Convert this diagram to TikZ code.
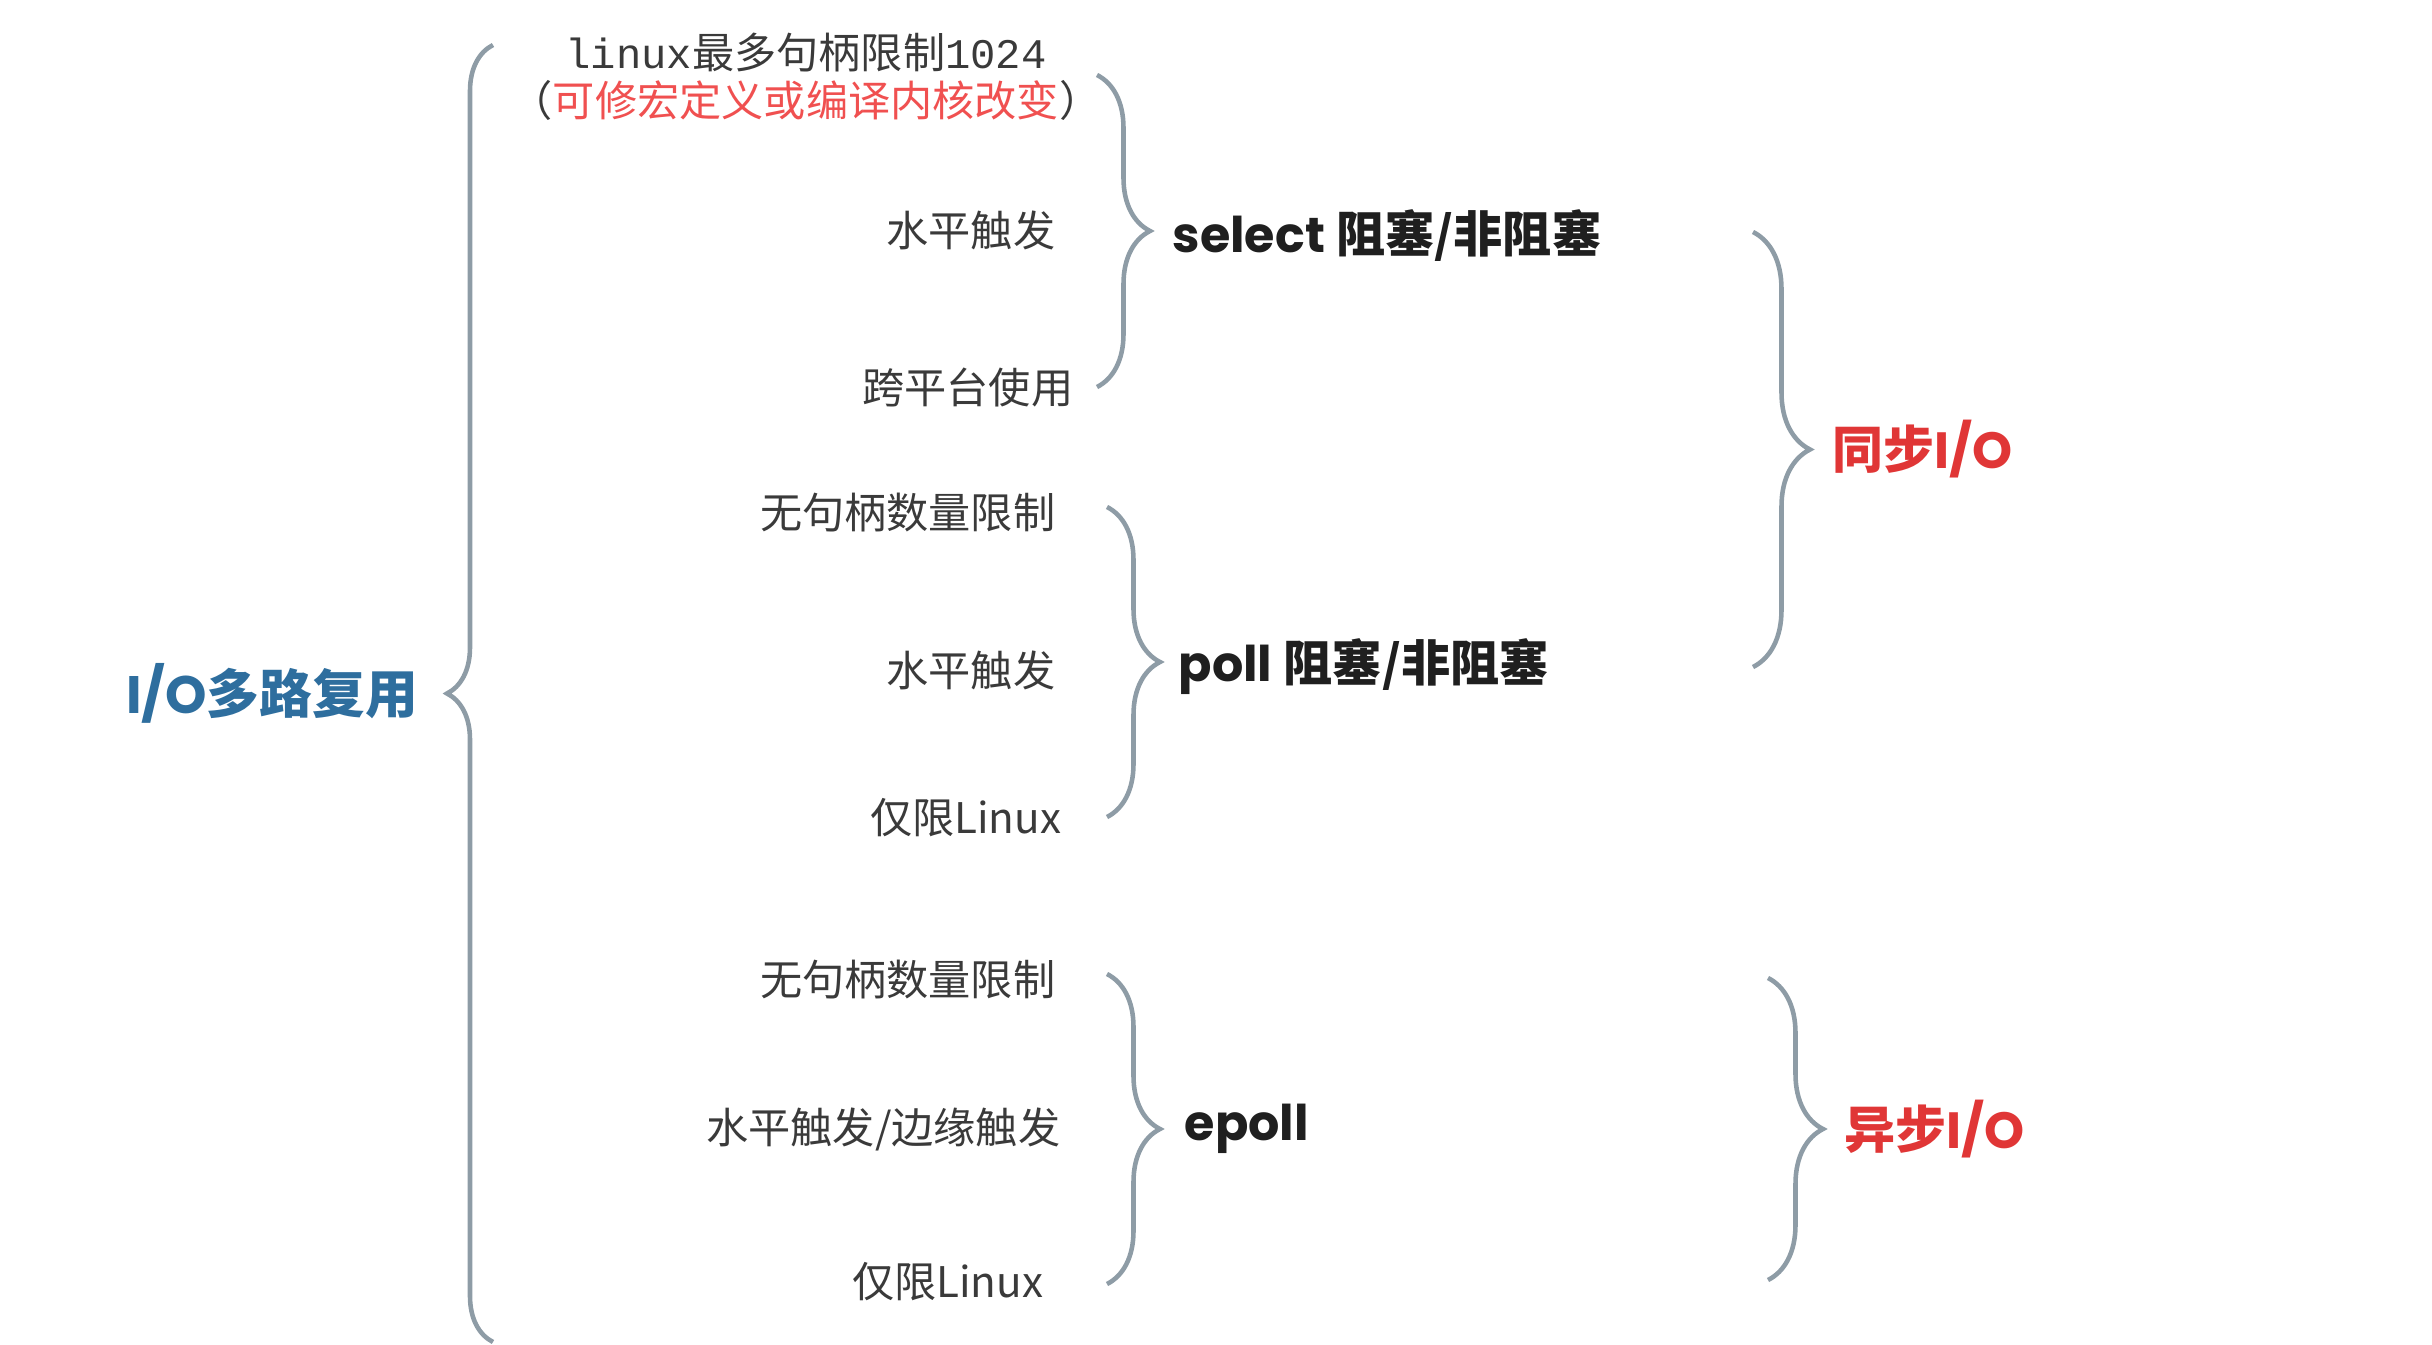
\documentclass[tikz,border=0pt]{standalone}
\usepackage{fontspec}
\setmainfont{Noto Sans CJK SC}
\setmonofont{Liberation Mono}
\newfontfamily\geo{Poppins}
\usetikzlibrary{decorations.pathreplacing}
\definecolor{bracegray}{HTML}{8E9CA6}
\definecolor{labelgray}{HTML}{3A3A3A}
\definecolor{rootblue}{HTML}{2E6E9E}
\definecolor{ioRed}{HTML}{E03636}
\definecolor{noteRed}{HTML}{F05050}
\tikzset{
  leaf/.style={anchor=east, inner sep=0pt, text=labelgray, font=\fontsize{12}{14}\selectfont},
  call/.style={anchor=west, inner sep=0pt, text=black!88, font=\fontsize{14}{16}\selectfont\bfseries},
  kind/.style={anchor=west, inner sep=0pt, text=ioRed, font=\fontsize{14.5}{16}\selectfont\bfseries},
  root/.style={inner sep=0pt, text=rootblue, font=\fontsize{15}{17}\selectfont\bfseries},
  curly/.style={draw=bracegray, line width=1.3pt, decorate, decoration={brace, amplitude=#1}},
  curly/.default=0.53cm
}
\begin{document}
\begin{tikzpicture}
\useasboundingbox (0,0) rectangle (24.32,-13.45);
% root
\node[root] (root) at (2.72,-6.93) {{\geo I/O}多路复用};
\coordinate (rootTop) at (4.93,-0.45);
\coordinate (rootBot) at (4.93,-13.42);
\draw[curly=0.46cm] (rootBot) -- (rootTop);
% select
\node[leaf, anchor=center] (selLimit) at (8.06,-0.53) {{\ttfamily linux}最多句柄限制{\ttfamily 1024}};
\node[leaf, anchor=center] (selNote) at (8.06,-1.00) {（\textcolor{noteRed}{可修宏定义或编译内核改变}）};
\node[leaf] (selLevel) at (10.56,-2.30) {水平触发};
\node[leaf] (selCross) at (10.74,-3.87) {跨平台使用};
\node[call] (select) at (11.72,-2.36) {{\geo select} 阻塞/非阻塞};
\coordinate (selTop) at (10.97,-0.75);
\coordinate (selBot) at (10.97,-3.87);
\draw[curly] (selTop) -- (selBot);
% poll
\node[leaf] (pollFree) at (10.56,-5.13) {无句柄数量限制};
\node[leaf] (pollLevel) at (10.56,-6.70) {水平触发};
\node[leaf] (pollLinux) at (10.62,-8.18) {仅限Linux};
\node[call] (poll) at (11.78,-6.67) {{\geo poll} 阻塞/非阻塞};
\coordinate (pollTop) at (11.07,-5.07);
\coordinate (pollBot) at (11.07,-8.17);
\draw[curly] (pollTop) -- (pollBot);
% epoll
\node[leaf] (epFree) at (10.56,-9.80) {无句柄数量限制};
\node[leaf] (epEdge) at (10.61,-11.29) {水平触发/边缘触发};
\node[leaf] (epLinux) at (10.44,-12.82) {仅限Linux};
\node[call] (epoll) at (11.84,-11.29) {{\geo epoll}};
\coordinate (epTop) at (11.07,-9.74);
\coordinate (epBot) at (11.07,-12.84);
\draw[curly] (epTop) -- (epBot);
% sync / async
\node[kind] (sync) at (18.32,-4.49) {同步{\geo I/O}};
\coordinate (syncTop) at (17.53,-2.32);
\coordinate (syncBot) at (17.53,-6.67);
\draw[curly=0.57cm] (syncTop) -- (syncBot);
\node[kind] (async) at (18.44,-11.29) {异步{\geo I/O}};
\coordinate (asyncTop) at (17.68,-9.78);
\coordinate (asyncBot) at (17.68,-12.80);
\draw[curly=0.55cm] (asyncTop) -- (asyncBot);
\end{tikzpicture}
\end{document}
